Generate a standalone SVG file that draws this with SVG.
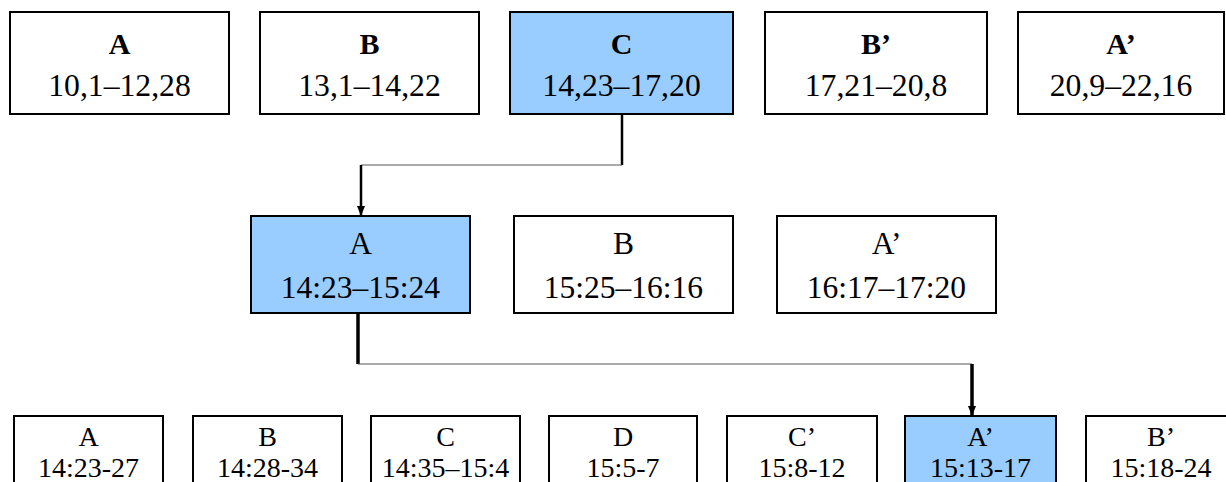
<svg xmlns="http://www.w3.org/2000/svg" width="1226" height="482" viewBox="0 0 1226 482">
<style>
.box{fill:#fff;stroke:#000;stroke-width:2}
.hl{fill:#99CCFF}
text{font-family:"Liberation Serif","Times New Roman",serif;fill:#000;text-anchor:middle}
.t1{font-size:30px;font-weight:bold}
.n1{font-size:31.7px}
.t2{font-size:31.5px}
.t3{font-size:28px}
.thick{fill:none;stroke:#000;stroke-width:2.5}
.thicker{fill:none;stroke:#000;stroke-width:3.5}
.thin{fill:none;stroke:#555;stroke-width:1}
</style>
<defs>
<marker id="arr" markerWidth="10" markerHeight="8" refX="9" refY="4" orient="auto" markerUnits="userSpaceOnUse">
<path d="M0,0 L10,4 L0,8 Z" fill="#000"/>
</marker>
</defs>
<rect width="1226" height="482" fill="#fff"/>
<g id="connectors">
<path class="thick" d="M622,114 V165"/>
<path class="thin" d="M622,165 H361"/>
<path class="thick" d="M361,165 V215" marker-end="url(#arr)"/>
<path class="thicker" d="M358,313 V364"/>
<path class="thin" d="M358,364 H972"/>
<path class="thicker" d="M972,364 V415" marker-end="url(#arr)"/>
</g>
<g id="top-A"><rect class="box" x="10" y="12" width="219" height="102"/><text class="t1" x="119.5" y="54">A</text><text class="n1" x="119.5" y="96">10,1–12,28</text></g>
<g id="top-B"><rect class="box" x="260" y="12" width="219" height="102"/><text class="t1" x="369.5" y="54">B</text><text class="n1" x="369.5" y="96">13,1–14,22</text></g>
<g id="top-C"><rect class="box hl" x="510" y="12" width="223" height="102"/><text class="t1" x="621.5" y="54">C</text><text class="n1" x="621.5" y="96">14,23–17,20</text></g>
<g id="top-Bp"><rect class="box" x="765" y="12" width="222" height="102"/><text class="t1" x="876" y="54">B’</text><text class="n1" x="876" y="96">17,21–20,8</text></g>
<g id="top-Ap"><rect class="box" x="1018" y="12" width="206" height="102"/><text class="t1" x="1121" y="54">A’</text><text class="n1" x="1121" y="96">20,9–22,16</text></g>
<g id="mid-A"><rect class="box hl" x="251" y="216" width="219" height="97"/><text class="t2" x="360.5" y="254">A</text><text class="t2" x="360.5" y="298">14:23–15:24</text></g>
<g id="mid-B"><rect class="box" x="514" y="216" width="219" height="97"/><text class="t2" x="623.5" y="254">B</text><text class="t2" x="623.5" y="298">15:25–16:16</text></g>
<g id="mid-Ap"><rect class="box" x="777" y="216" width="219" height="97"/><text class="t2" x="886.5" y="254">A’</text><text class="t2" x="886.5" y="298">16:17–17:20</text></g>
<g id="bot-A"><rect class="box" x="14" y="416" width="149" height="80"/><text class="t3" x="88.5" y="446">A</text><text class="t3" x="88.5" y="477">14:23-27</text></g>
<g id="bot-B"><rect class="box" x="193" y="416" width="149" height="80"/><text class="t3" x="267.5" y="446">B</text><text class="t3" x="267.5" y="477">14:28-34</text></g>
<g id="bot-C"><rect class="box" x="371" y="416" width="149" height="80"/><text class="t3" x="445.5" y="446">C</text><text class="t3" x="445.5" y="477">14:35–15:4</text></g>
<g id="bot-D"><rect class="box" x="549" y="416" width="148" height="80"/><text class="t3" x="623" y="446">D</text><text class="t3" x="623" y="477">15:5-7</text></g>
<g id="bot-Cp"><rect class="box" x="727" y="416" width="150" height="80"/><text class="t3" x="802" y="446">C’</text><text class="t3" x="802" y="477">15:8-12</text></g>
<g id="bot-Ap"><rect class="box hl" x="905" y="416" width="151" height="80"/><text class="t3" x="980.5" y="446">A’</text><text class="t3" x="980.5" y="477">15:13-17</text></g>
<g id="bot-Bp"><rect class="box" x="1086" y="416" width="150" height="80"/><text class="t3" x="1161" y="446">B’</text><text class="t3" x="1161" y="477">15:18-24</text></g>
</svg>
